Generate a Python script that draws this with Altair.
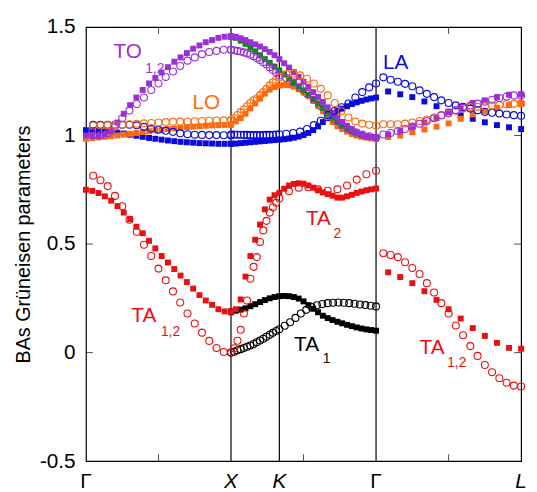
import altair as alt
import numpy as np
import pandas as pd

# ---- path positions (Γ, X, K, Γ, L) ----
PATH_X = [0.0, 1.0, 4 / 3, 2.0, 3.0]
PATH_LABELS = ["Γ", "X", "K", "Γ", "L"]
PATH_ITALIC = [False, True, True, False, True]

# ---- Γ–X segment ----
RED_GX_SQ = [0.75, 0.745, 0.735, 0.72, 0.70, 0.675, 0.645, 0.615, 0.58, 0.55, 0.515, 0.48,
             0.445, 0.415, 0.385, 0.355, 0.325, 0.295, 0.265, 0.24, 0.22, 0.20, 0.19, 0.185]
PUR_GX_SQ = [1.00, 1.00, 1.00, 1.005, 1.02, 1.06, 1.10, 1.14, 1.175, 1.21, 1.24, 1.265,
             1.29, 1.315, 1.34, 1.36, 1.38, 1.40, 1.415, 1.43, 1.44, 1.45, 1.455, 1.458]
ORA_GX_SQ = [0.985, 0.988, 0.991, 0.994, 0.997, 1.0, 1.004, 1.008, 1.012, 1.016, 1.02, 1.024,
             1.027, 1.03, 1.033, 1.036, 1.039, 1.041, 1.043, 1.045, 1.047, 1.048, 1.049, 1.05]
BLU_GX_SQ = [1.025, 1.023, 1.021, 1.019, 1.016, 1.013, 1.009, 1.004, 0.999, 0.994, 0.989, 0.985,
             0.981, 0.977, 0.974, 0.971, 0.969, 0.967, 0.965, 0.964, 0.963, 0.962, 0.962, 0.962]

RED_GX_OP = [0.815, 0.794, 0.767, 0.722, 0.674, 0.612, 0.557, 0.497, 0.445, 0.387, 0.333, 0.282,
             0.231, 0.180, 0.134, 0.092, 0.054, 0.021, 0.003, 0.0]
PUR_GX_OP = [1.00, 1.00, 1.01, 1.04, 1.08, 1.115, 1.145, 1.175, 1.21, 1.24, 1.27, 1.295,
             1.32, 1.345, 1.36, 1.375, 1.385, 1.39, 1.395, 1.395]
ORA_GX_OP = [1.045, 1.046, 1.047, 1.048, 1.05, 1.052, 1.054, 1.056, 1.058, 1.06, 1.062, 1.063,
             1.064, 1.065, 1.066, 1.067, 1.068, 1.069, 1.07, 1.07]
BLU_GX_OP = [1.05, 1.05, 1.05, 1.05, 1.05, 1.05, 1.047, 1.04, 1.032, 1.027, 1.022, 1.017,
             1.01, 1.006, 1.004, 1.003, 1.002, 1.002, 1.001, 1.0]

# ---- X–K–Γ segment ----
RED_XG_SQ = [0.19, 0.20, 0.245, 0.35, 0.445, 0.52, 0.59, 0.66, 0.705, 0.725, 0.736, 0.755,
             0.77, 0.777, 0.78, 0.778, 0.77, 0.76, 0.748, 0.738, 0.73, 0.723, 0.714, 0.714,
             0.72, 0.727, 0.736, 0.742, 0.748, 0.752, 0.756]
BLK_XG_SQ = [0.19, 0.193, 0.198, 0.204, 0.214, 0.223, 0.233, 0.242, 0.25, 0.256, 0.26, 0.261,
             0.26, 0.256, 0.249, 0.236, 0.219, 0.202, 0.186, 0.17, 0.159, 0.15, 0.142, 0.135,
             0.128, 0.122, 0.116, 0.111, 0.107, 0.104, 0.101]
PUR_XG_SQ = [1.455, 1.455, 1.448, 1.44, 1.43, 1.42, 1.41, 1.398, 1.385, 1.37, 1.352, 1.333,
             1.313, 1.292, 1.27, 1.248, 1.225, 1.2, 1.178, 1.155, 1.13, 1.105, 1.083, 1.063,
             1.045, 1.03, 1.017, 1.006, 0.998, 0.994, 0.99]
GRN_XG_SQ = [1.455, 1.45, 1.437, 1.422, 1.405, 1.388, 1.37, 1.352, 1.335, 1.318, 1.30, 1.282,
             1.263, 1.245, 1.227, 1.208, 1.188, 1.168, 1.148, 1.127, 1.105, 1.083, 1.063, 1.045,
             1.032, 1.02, 1.01, 1.002, 0.996, 0.993, 0.99]
ORA_XG_SQ = [1.05, 1.065, 1.08, 1.10, 1.125, 1.148, 1.17, 1.193, 1.212, 1.223, 1.23, 1.233,
             1.232, 1.225, 1.213, 1.198, 1.182, 1.16, 1.137, 1.112, 1.085, 1.062, 1.043, 1.03,
             1.018, 1.007, 1.0, 0.994, 0.99, 0.987, 0.985]
BLU_XG_SQ = [0.962, 0.963, 0.965, 0.967, 0.969, 0.971, 0.973, 0.975, 0.977, 0.979, 0.981, 0.983,
             0.986, 0.99, 0.995, 1.002, 1.012, 1.025, 1.042, 1.062, 1.08, 1.097, 1.112, 1.124,
             1.135, 1.145, 1.153, 1.16, 1.166, 1.171, 1.175]

RED_XK_OP = [0.0, 0.02, 0.055, 0.105, 0.18, 0.24, 0.34, 0.395, 0.44, 0.51, 0.563, 0.607,
             0.645, 0.67, 0.69, 0.71]
BLK_XK_OP = [0.0, 0.004, 0.011, 0.016, 0.021, 0.027, 0.033, 0.04, 0.048, 0.056, 0.064, 0.073,
             0.082, 0.091, 0.1, 0.108]
PUR_XK_OP = [1.395, 1.393, 1.39, 1.387, 1.383, 1.378, 1.372, 1.365, 1.357, 1.348, 1.338, 1.327,
             1.315, 1.302, 1.29, 1.277]
ORA_XK_OP = [1.07, 1.08, 1.095, 1.108, 1.12, 1.135, 1.15, 1.162, 1.172, 1.185, 1.2, 1.215,
             1.23, 1.245, 1.257, 1.267]
BLU_XK_OP = [1.005, 1.005, 1.004, 1.004, 1.003, 1.003, 1.002, 1.002, 1.002, 1.002, 1.002, 1.003,
             1.003, 1.004, 1.005, 1.006]

RED_KG_OP = [0.743, 0.76, 0.762, 0.752, 0.746, 0.752, 0.77, 0.797, 0.822, 0.838]
BLK_KG_OP = [0.124, 0.14, 0.16, 0.18, 0.197, 0.21, 0.218, 0.224, 0.228, 0.23, 0.231, 0.23,
             0.228, 0.225, 0.222, 0.219, 0.216, 0.213]
PUR_KG_OP = [1.265, 1.245, 1.22, 1.193, 1.165, 1.135, 1.105, 1.075, 1.05, 1.03, 1.015, 1.005,
             0.997, 0.99]
ORA_KG_OP = [1.283, 1.285, 1.277, 1.262, 1.24, 1.215, 1.185, 1.15, 1.112, 1.083, 1.065, 1.055,
             1.05, 1.045]
BLU_KG_OP = [1.008, 1.012, 1.018, 1.03, 1.048, 1.068, 1.095, 1.113, 1.13, 1.148, 1.175, 1.2,
             1.222, 1.24]

# ---- Γ–L segment ----
RED_GL_SQ = [0.37, 0.348, 0.32, 0.283, 0.243, 0.2, 0.157, 0.113, 0.077, 0.045, 0.022, 0.018]
PUR_GL_SQ = [1.005, 1.022, 1.042, 1.06, 1.08, 1.108, 1.132, 1.15, 1.162, 1.177, 1.188, 1.19]
ORA_GL_SQ = [0.993, 1.0, 1.015, 1.028, 1.041, 1.056, 1.077, 1.097, 1.112, 1.128, 1.14, 1.147]
BLU_GL_SQ = [1.203, 1.19, 1.177, 1.157, 1.135, 1.11, 1.093, 1.077, 1.061, 1.048, 1.038, 1.03]

RED_GL_OP = [0.458, 0.45, 0.44, 0.416, 0.39, 0.362, 0.32, 0.277, 0.228, 0.18, 0.125, 0.08,
             0.03, -0.015, -0.057, -0.09, -0.118, -0.139, -0.152, -0.156]
PUR_GL_OP = [1.005, 1.012, 1.02, 1.03, 1.042, 1.054, 1.067, 1.08, 1.093, 1.105, 1.117, 1.128,
             1.138, 1.147, 1.156, 1.165, 1.173, 1.18, 1.185, 1.185]
ORA_GL_OP = [1.052, 1.052, 1.052, 1.055, 1.06, 1.067, 1.074, 1.083, 1.094, 1.102, 1.114, 1.125,
             1.131, 1.133, 1.135, 1.138, 1.141, 1.144, 1.146, 1.147]
BLU_GL_OP = [1.268, 1.257, 1.248, 1.238, 1.227, 1.208, 1.192, 1.177, 1.162, 1.15, 1.139, 1.132,
             1.124, 1.117, 1.109, 1.105, 1.101, 1.097, 1.094, 1.091]

SERIES = ["blue", "orange", "green", "purple", "black", "red"]
COLORS = ["#0a0adc", "#ff6a0d", "#0a8a0a", "#9a30d6", "#000000", "#e81010"]

# ---- text labels ----
LABEL_TEXT = ["TO", "LO", "LA", "TA", "TA", "TA", "TA"]
LABEL_X = [0.19, 0.735, 2.048, 1.517, 1.435, 0.313, 2.30]
LABEL_Y = [1.355, 1.123, 1.305, 0.586, 0.009, 0.141, -0.005]
LABEL_COLOR = ["#9a30d6", "#ff6a0d", "#0a0adc", "#e81010", "#000000", "#e81010", "#e81010"]
SUB_TEXT = ["1,2", "2", "1", "1,2", "1,2"]
SUB_X = [0.408, 1.707, 1.633, 0.517, 2.49]
SUB_Y = [1.29, 0.527, -0.05, 0.077, -0.064]
SUB_COLOR = ["#9a30d6", "#e81010", "#000000", "#e81010", "#e81010"]

Y_TICKS = [-0.5, 0, 0.5, 1, 1.5]
X_TICKS = [0.5, 1.5, 2.5]

K = 4 / 3


def seg(vals, start, stop, series):
    return pd.DataFrame({"x": np.linspace(start, stop, len(vals)), "y": vals, "series": series})


def kg(vals):
    n = len(vals)
    return K + (2 - K) / n, 2.0


squares = pd.concat([
    seg(BLU_GX_SQ, 0, 1, "blue"), seg(ORA_GX_SQ, 0, 1, "orange"),
    seg(PUR_GX_SQ, 0, 1, "purple"), seg(RED_GX_SQ, 0, 1, "red"),
    seg(BLU_XG_SQ, 1, 2, "blue"), seg(ORA_XG_SQ, 1, 2, "orange"),
    seg(GRN_XG_SQ, 1, 2, "green"), seg(PUR_XG_SQ, 1, 2, "purple"),
    seg(BLK_XG_SQ, 1, 2, "black"), seg(RED_XG_SQ, 1, 2, "red"),
    seg(BLU_GL_SQ, 2 + 1 / 12, 3, "blue"), seg(ORA_GL_SQ, 2 + 1 / 12, 3, "orange"),
    seg(PUR_GL_SQ, 2 + 1 / 12, 3, "purple"), seg(RED_GL_SQ, 2 + 1 / 12, 3, "red"),
], ignore_index=True)

circles = pd.concat([
    seg(BLU_GX_OP, 0.05, 1, "blue"), seg(ORA_GX_OP, 0.05, 1, "orange"),
    seg(PUR_GX_OP, 0.05, 1, "purple"), seg(RED_GX_OP, 0.05, 1, "red"),
    seg(BLU_XK_OP, 1, K, "blue"), seg(ORA_XK_OP, 1, K, "orange"),
    seg(PUR_XK_OP, 1, K, "purple"), seg(BLK_XK_OP, 1, K, "black"),
    seg(RED_XK_OP, 1, K, "red"),
    seg(BLU_KG_OP, *kg(BLU_KG_OP), "blue"), seg(ORA_KG_OP, *kg(ORA_KG_OP), "orange"),
    seg(PUR_KG_OP, *kg(PUR_KG_OP), "purple"), seg(BLK_KG_OP, *kg(BLK_KG_OP), "black"),
    seg(RED_KG_OP, *kg(RED_KG_OP), "red"),
    seg(BLU_GL_OP, 2.05, 3, "blue"), seg(ORA_GL_OP, 2.05, 3, "orange"),
    seg(PUR_GL_OP, 2.05, 3, "purple"), seg(RED_GL_OP, 2.05, 3, "red"),
], ignore_index=True)

FONT = "Liberation Sans"
xs = alt.Scale(domain=[0, 3], nice=False, zero=False)
ys = alt.Scale(domain=[-0.5, 1.5], nice=False, zero=False)
cs = alt.Scale(domain=SERIES, range=COLORS)

X = alt.X("x:Q", scale=xs, axis=None)
Y = alt.Y("y:Q", scale=ys, axis=alt.Axis(
    values=Y_TICKS, labelExpr="'' + datum.value", ticks=False, domain=False, grid=False,
    labelFontSize=21, labelFont=FONT, labelColor="black", labelPadding=11,
    title="BAs Grüneisen parameters", titleFontSize=20, titleFont=FONT,
    titleFontWeight="normal", titleColor="black", titlePadding=6))

vlines = alt.Chart(pd.DataFrame({"x": PATH_X[1:4]})).mark_rule(
    color="black", strokeWidth=1.2).encode(x=alt.X("x:Q", scale=xs, axis=None))

sq = alt.Chart(squares).mark_point(shape="square", filled=True, size=36, opacity=1).encode(
    x=X, y=Y, color=alt.Color("series:N", scale=cs, legend=None))
ci = alt.Chart(circles).mark_point(shape="circle", filled=False, size=50, opacity=1,
                                   strokeWidth=1.1).encode(
    x=X, y=Y, color=alt.Color("series:N", scale=cs, legend=None))

lab_df = pd.DataFrame({"x": LABEL_X, "y": LABEL_Y, "t": LABEL_TEXT, "c": LABEL_COLOR})
sub_df = pd.DataFrame({"x": SUB_X, "y": SUB_Y, "t": SUB_TEXT, "c": SUB_COLOR})
labels = alt.Chart(lab_df).mark_text(font=FONT, fontSize=21, align="left",
                                     baseline="alphabetic").encode(
    x=X, y=Y, text="t:N", color=alt.Color("c:N", scale=None))
subs = alt.Chart(sub_df).mark_text(font=FONT, fontSize=14, align="left",
                                   baseline="alphabetic").encode(
    x=X, y=Y, text="t:N", color=alt.Color("c:N", scale=None))

pdf = pd.DataFrame({"x": PATH_X, "t": PATH_LABELS, "it": PATH_ITALIC, "y": -0.5})
xlab_n = alt.Chart(pdf[~pdf["it"]]).mark_text(font=FONT, fontSize=21, align="center",
                                             baseline="alphabetic", dy=27, color="black").encode(
    x=X, y=Y, text="t:N")
xlab_i = alt.Chart(pdf[pdf["it"]]).mark_text(font=FONT, fontSize=21, align="center",
                                            baseline="alphabetic", dy=27, fontStyle="italic",
                                            color="black").encode(
    x=X, y=Y, text="t:N")

ytk = pd.DataFrame({"y": [0, 0.5, 1]})
xtk = pd.DataFrame({"x": X_TICKS})
tick_l = alt.Chart(ytk.assign(x=0.0)).mark_tick(orient="horizontal", size=7, thickness=1,
                                                 xOffset=3.5, color="black").encode(x=X, y=Y)
tick_r = alt.Chart(ytk.assign(x=3.0)).mark_tick(orient="horizontal", size=7, thickness=1,
                                                 xOffset=-3.5, color="black").encode(x=X, y=Y)
tick_b = alt.Chart(xtk.assign(y=-0.5)).mark_tick(orient="vertical", size=7, thickness=1,
                                                  yOffset=-3.5, color="black").encode(x=X, y=Y)
tick_t = alt.Chart(xtk.assign(y=1.5)).mark_tick(orient="vertical", size=7, thickness=1,
                                                 yOffset=3.5, color="black").encode(x=X, y=Y)

chart = alt.layer(vlines, tick_l, tick_r, tick_b, tick_t, sq, ci, labels, subs,
                  xlab_n, xlab_i).properties(
    width=441, height=440,
    autosize=alt.AutoSizeParams(type="none"),
    padding={"left": 79, "top": 16, "right": 8, "bottom": 28},
).configure_view(stroke="black", strokeWidth=1.2)

chart.save("out.html", embed_options={"renderer": "svg", "actions": False})
